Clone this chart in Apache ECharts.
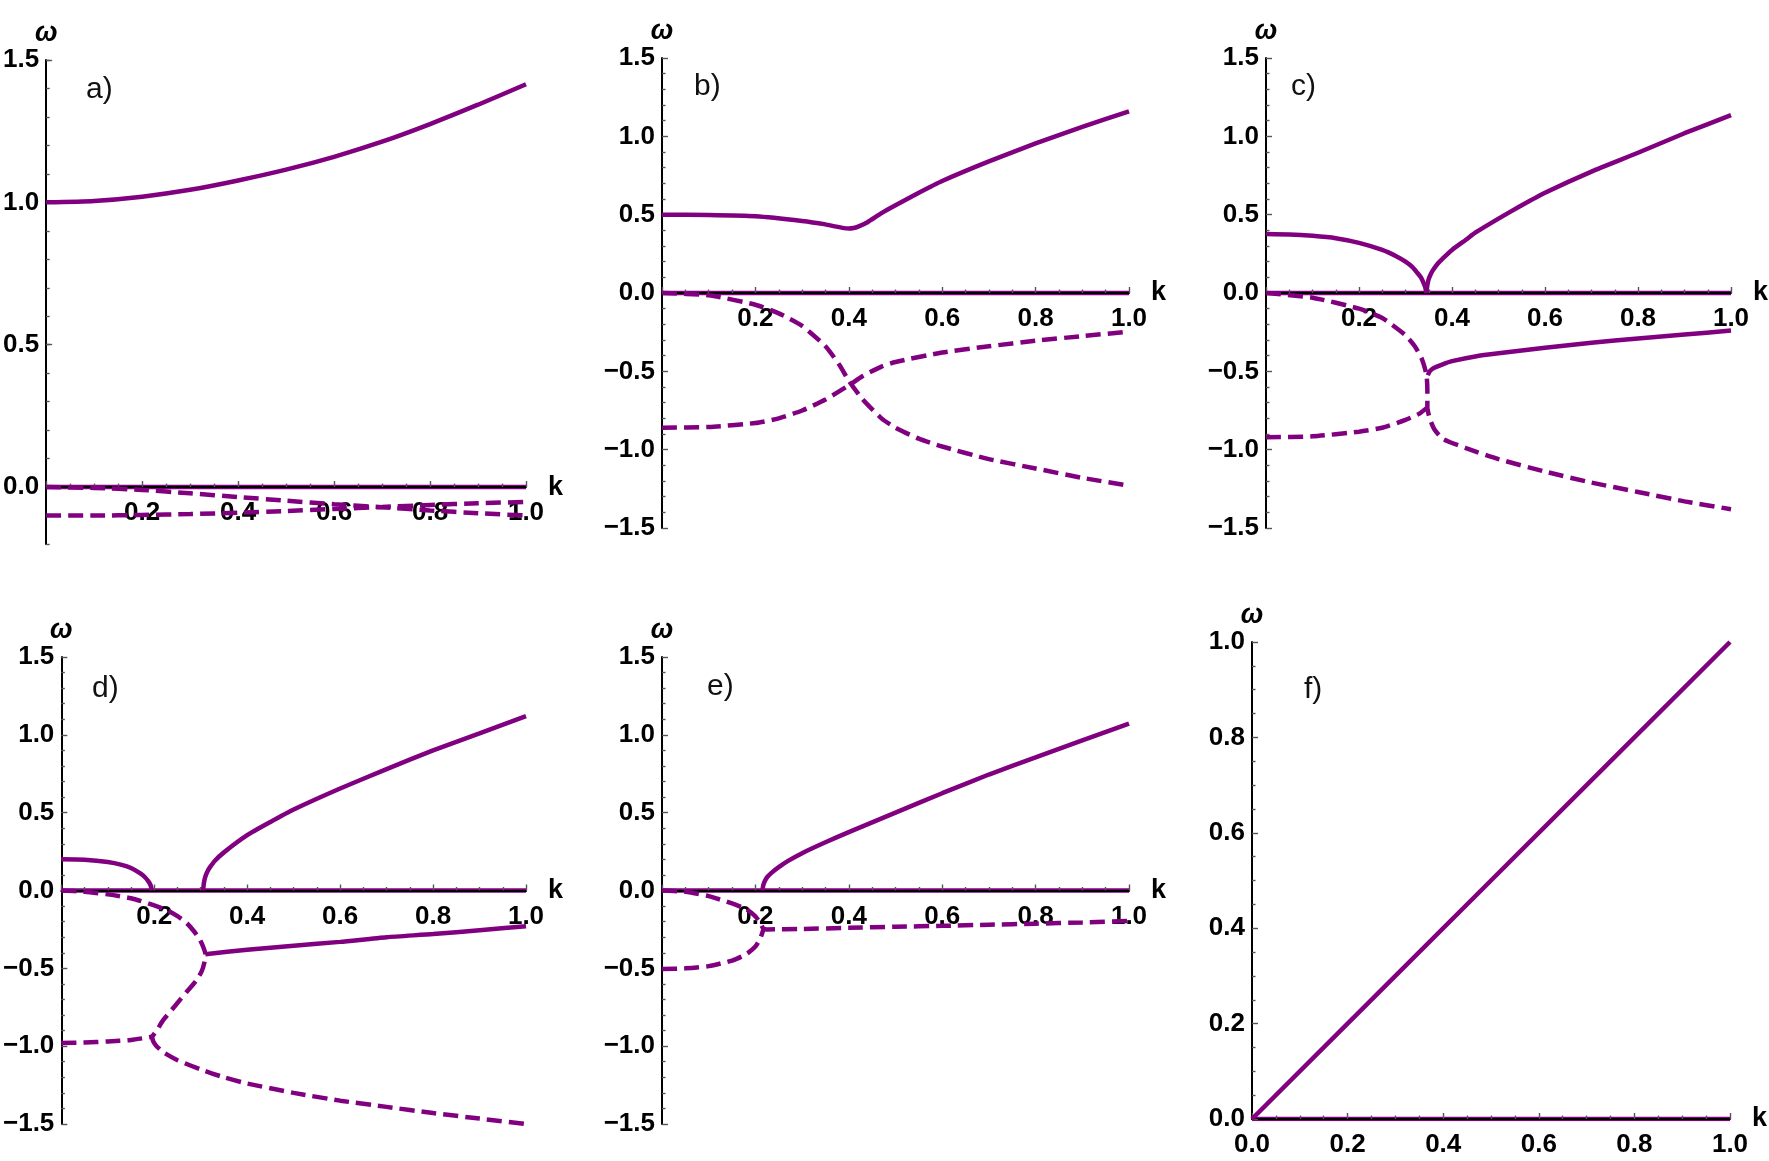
<!DOCTYPE html>
<html><head><meta charset="utf-8">
<script src="https://cdn.jsdelivr.net/npm/echarts@6/dist/echarts.min.js"></script>
<style>html,body{margin:0;padding:0;background:#fff}#c{width:1769px;height:1161px}</style>
</head><body><div id="c"></div><script>
// ---------- data (k, omega) ----------
const panelLetters = ['a)', 'b)', 'c)', 'd)', 'e)', 'f)'];
const kTickLabels = [0.2, 0.4, 0.6, 0.8, 1.0];
const wTickLabelsA = [0, 0.5, 1.0, 1.5];
const wTickLabelsBE = [-1.5, -1.0, -0.5, 0, 0.5, 1.0, 1.5];
const wTickLabelsF = [0, 0.2, 0.4, 0.6, 0.8, 1.0];

const zeroLine = [[0, 0], [1, 0]];

const aUpper = [[0,1.0],[0.1,1.005],[0.2,1.02],[0.3,1.044],[0.4,1.077],[0.5,1.115],[0.6,1.16],[0.7,1.213],[0.8,1.275],[0.9,1.343],[1.0,1.415]];
const aDash1 = [[0,0],[0.1,-0.003],[0.2,-0.01],[0.3,-0.022],[0.4,-0.035],[0.5,-0.048],[0.6,-0.06],[0.7,-0.071],[0.8,-0.082],[0.9,-0.092],[1.0,-0.1]];
const aDash2 = [[0,-0.1],[0.1,-0.1],[0.2,-0.098],[0.3,-0.095],[0.4,-0.09],[0.5,-0.084],[0.6,-0.077],[0.7,-0.07],[0.8,-0.063],[0.9,-0.057],[1.0,-0.052]];

const bUpper = [[0,0.5],[0.1,0.498],[0.2,0.49],[0.3,0.46],[0.35,0.438],[0.37,0.425],[0.39,0.414],[0.4,0.412],[0.41,0.415],[0.42,0.424],[0.44,0.452],[0.47,0.51],[0.5,0.56],[0.55,0.64],[0.6,0.715],[0.7,0.84],[0.8,0.955],[0.9,1.06],[1.0,1.16]];
const bDash1 = [[0,0],[0.1,-0.015],[0.2,-0.075],[0.25,-0.13],[0.3,-0.21],[0.35,-0.34],[0.38,-0.46],[0.4,-0.56],[0.43,-0.68],[0.47,-0.8],[0.5,-0.86],[0.55,-0.93],[0.6,-0.98],[0.7,-1.06],[0.8,-1.12],[0.9,-1.18],[1.0,-1.23]];
const bDash2 = [[0,-0.86],[0.1,-0.855],[0.2,-0.83],[0.25,-0.8],[0.3,-0.75],[0.35,-0.68],[0.4,-0.59],[0.43,-0.53],[0.47,-0.47],[0.5,-0.44],[0.6,-0.38],[0.7,-0.34],[0.8,-0.305],[0.9,-0.275],[1.0,-0.247]];

const cLeft = [[0,0.377],[0.05,0.374],[0.1,0.365],[0.15,0.35],[0.2,0.32],[0.25,0.275],[0.28,0.235],[0.3,0.2],[0.315,0.165],[0.325,0.13],[0.333,0.1],[0.338,0.07],[0.342,0.04],[0.345,0]];
const cRight = [[0.345,0],[0.347,0.05],[0.35,0.09],[0.355,0.125],[0.36,0.15],[0.37,0.19],[0.38,0.22],[0.4,0.275],[0.43,0.34],[0.45,0.385],[0.5,0.475],[0.55,0.56],[0.6,0.64],[0.7,0.775],[0.8,0.895],[0.9,1.02],[1.0,1.135]];
const cLower = [[0.348,-0.525],[0.352,-0.5],[0.36,-0.48],[0.38,-0.455],[0.4,-0.435],[0.45,-0.405],[0.5,-0.385],[0.6,-0.35],[0.7,-0.318],[0.8,-0.29],[0.9,-0.265],[1.0,-0.24]];
const cDash1 = [[0,0],[0.1,-0.03],[0.2,-0.1],[0.25,-0.16],[0.3,-0.27],[0.32,-0.34],[0.335,-0.42],[0.345,-0.52],[0.347,-0.62],[0.347,-0.73],[0.352,-0.8],[0.362,-0.87],[0.38,-0.93],[0.43,-0.99],[0.5,-1.06],[0.6,-1.14],[0.7,-1.21],[0.8,-1.27],[0.9,-1.33],[1.0,-1.38]];
const cDash2 = [[0,-0.92],[0.1,-0.915],[0.2,-0.885],[0.25,-0.86],[0.3,-0.81],[0.33,-0.77],[0.347,-0.73]];

const dLeft = [[0,0.2],[0.05,0.197],[0.1,0.183],[0.13,0.165],[0.15,0.145],[0.17,0.11],[0.18,0.085],[0.187,0.06],[0.192,0.035],[0.195,0]];
const dRight = [[0.305,0],[0.307,0.05],[0.31,0.09],[0.315,0.125],[0.32,0.15],[0.33,0.19],[0.35,0.245],[0.4,0.355],[0.45,0.44],[0.5,0.52],[0.6,0.655],[0.7,0.78],[0.8,0.9],[0.9,1.01],[1.0,1.12]];
const dLower = [[0.31,-0.41],[0.4,-0.38],[0.5,-0.355],[0.6,-0.33],[0.7,-0.3],[0.8,-0.28],[0.9,-0.255],[1.0,-0.23]];
const dDash1 = [[0,0],[0.05,-0.008],[0.1,-0.025],[0.15,-0.05],[0.2,-0.095],[0.23,-0.13],[0.25,-0.165],[0.27,-0.21],[0.285,-0.26],[0.297,-0.31],[0.305,-0.36],[0.31,-0.41],[0.308,-0.46],[0.302,-0.52],[0.29,-0.58],[0.27,-0.65],[0.245,-0.74],[0.22,-0.83],[0.205,-0.9],[0.195,-0.94]];
const dDash2 = [[0,-0.98],[0.05,-0.977],[0.1,-0.97],[0.15,-0.96],[0.195,-0.94]];
const dDash3 = [[0.195,-0.94],[0.198,-0.97],[0.205,-1.0],[0.22,-1.04],[0.25,-1.09],[0.3,-1.15],[0.35,-1.2],[0.4,-1.24],[0.5,-1.3],[0.6,-1.35],[0.7,-1.39],[0.8,-1.43],[0.9,-1.465],[1.0,-1.5]];

const eRight = [[0.215,0],[0.217,0.035],[0.22,0.06],[0.225,0.085],[0.235,0.115],[0.25,0.15],[0.27,0.19],[0.3,0.24],[0.35,0.31],[0.4,0.375],[0.5,0.5],[0.6,0.625],[0.7,0.745],[0.8,0.855],[0.9,0.965],[1.0,1.072]];
const eDash1 = [[0,0],[0.05,-0.008],[0.1,-0.036],[0.15,-0.083],[0.18,-0.12],[0.2,-0.166],[0.208,-0.2],[0.213,-0.225],[0.217,-0.245],[0.225,-0.25],[0.3,-0.247],[0.4,-0.24],[0.5,-0.233],[0.6,-0.227],[0.7,-0.22],[0.8,-0.213],[0.9,-0.205],[1.0,-0.195]];
const eDash2 = [[0,-0.505],[0.05,-0.5],[0.1,-0.486],[0.15,-0.45],[0.18,-0.41],[0.2,-0.36],[0.21,-0.31],[0.215,-0.27],[0.217,-0.25]];

const fDiag = [[0,0],[0.5,0.5],[1,1]];

// ---------- layout / style ----------
const PURPLE = '#800080';
const FONT = '"Liberation Sans", Arial, sans-serif';
const grids = [
  {left: 43, top: 60, width: 483, height: 484},
  {left: 662, top: 58, width: 467, height: 470},
  {left: 1266, top: 58, width: 467, height: 470},
  {left: 59, top: 657, width: 467, height: 467},
  {left: 662, top: 657, width: 467, height: 467},
  {left: 1252, top: 642, width: 478, height: 477}
];
const letterPos = [[86, 90], [694, 87], [1291, 87], [92, 689], [707, 687], [1304, 690]];

function isIn(list, v) { return list.some(t => Math.abs(t - v) < 1e-6); }
function fmt(v) {
  if (Math.abs(v) < 1e-9) return '0.0';
  return (v < 0 ? '\u2212' : '') + Math.abs(v).toFixed(1);
}
const tickLine = {color: '#555', width: 1.4};
const labelStyle = {fontSize: 26, fontWeight: 'bold', color: '#000', fontFamily: FONT};

const xAxes = [], yAxes = [], series = [];

// x axis drawn at omega = 0 (offset from grid bottom computed from the y range)
function addX(gi, showZero, yMin, yMax) {
  const g = grids[gi];
  const off = -g.height * (0 - yMin) / (yMax - yMin);
  xAxes.push({
    type: 'value', gridIndex: gi, min: 0, max: 1, interval: 0.2, position: 'bottom', offset: off,
    name: 'k', nameLocation: 'end', nameGap: 16,
    nameTextStyle: {fontSize: 27, fontWeight: 'bold', color: '#000', fontFamily: FONT},
    axisLine: {onZero: false, lineStyle: {color: '#000', width: 2}},
    axisTick: {inside: true, length: 6, lineStyle: tickLine},
    minorTick: {show: true, splitNumber: 4, length: 3.5, lineStyle: tickLine},
    splitLine: {show: false},
    axisLabel: Object.assign({margin: 13, hideOverlap: false,
      formatter: v => (Math.abs(v) < 1e-9 ? (showZero ? '0.0' : '') : (isIn(kTickLabels, v) ? fmt(v) : ''))}, labelStyle)
  });
}
function addY(gi, min, max, interval, minorSplit, labels) {
  yAxes.push({
    type: 'value', gridIndex: gi, min: min, max: max, interval: interval, position: 'left',
    name: 'ω', nameLocation: 'end', nameGap: 12,
    nameTextStyle: {fontSize: 27, fontWeight: 'bold', fontStyle: 'italic', color: '#000', fontFamily: FONT},
    axisLine: {onZero: false, lineStyle: {color: '#000', width: 2}},
    axisTick: {inside: true, length: minorSplit ? 6 : 3.5, lineStyle: tickLine},
    minorTick: {show: !!minorSplit, splitNumber: minorSplit || 1, length: 3.5, lineStyle: tickLine},
    splitLine: {show: false},
    axisLabel: Object.assign({margin: 7, formatter: v => (isIn(labels, v) ? fmt(v) : '')}, labelStyle)
  });
  return yAxes.length - 1;
}
function addSeries(xi, yi, data, dashed, z) {
  series.push({
    type: 'line', xAxisIndex: xi, yAxisIndex: yi, data: data,
    showSymbol: false, symbol: 'none', smooth: 0.2, silent: true, animation: false,
    z: z == null ? 2 : z,
    lineStyle: {color: PURPLE, width: 4.5, type: dashed ? [15, 7] : 'solid', cap: 'butt'}
  });
}

// panel a (special y range -0.2..1.5)
addX(0, false, -0.2, 1.5);
const ya = addY(0, -0.2, 1.5, 0.1, 0, wTickLabelsA);
yAxes.push({
  type: 'value', gridIndex: 0, min: -0.2, max: 1.5, position: 'left',
  axisLine: {show: false}, axisLabel: {show: false}, splitLine: {show: false},
  axisTick: {inside: true, length: 6, lineStyle: tickLine, customValues: wTickLabelsA}
});
addSeries(0, ya, zeroLine, false, -1);
addSeries(0, ya, aUpper, false);
addSeries(0, ya, aDash1, true);
addSeries(0, ya, aDash2, true);

// panel b
addX(1, false, -1.5, 1.5);
let yi = addY(1, -1.5, 1.5, 0.5, 5, wTickLabelsBE);
addSeries(1, yi, zeroLine, false, -1);
addSeries(1, yi, bUpper, false);
addSeries(1, yi, bDash1, true);
addSeries(1, yi, bDash2, true);

// panel c
addX(2, false, -1.5, 1.5);
yi = addY(2, -1.5, 1.5, 0.5, 5, wTickLabelsBE);
addSeries(2, yi, zeroLine, false, -1);
addSeries(2, yi, cLeft, false);
addSeries(2, yi, cRight, false);
addSeries(2, yi, cLower, false);
addSeries(2, yi, cDash1, true);
addSeries(2, yi, cDash2, true);

// panel d
addX(3, false, -1.5, 1.5);
yi = addY(3, -1.5, 1.5, 0.5, 5, wTickLabelsBE);
addSeries(3, yi, zeroLine, false, -1);
addSeries(3, yi, dLeft, false);
addSeries(3, yi, dRight, false);
addSeries(3, yi, dLower, false);
addSeries(3, yi, dDash1, true);
addSeries(3, yi, dDash2, true);
addSeries(3, yi, dDash3, true);

// panel e
addX(4, false, -1.5, 1.5);
yi = addY(4, -1.5, 1.5, 0.5, 5, wTickLabelsBE);
addSeries(4, yi, zeroLine, false, -1);
addSeries(4, yi, eRight, false);
addSeries(4, yi, eDash1, true);
addSeries(4, yi, eDash2, true);

// panel f
addX(5, true, 0, 1);
yi = addY(5, 0, 1, 0.2, 4, wTickLabelsF);
addSeries(5, yi, zeroLine, false, -1);
addSeries(5, yi, fDiag, false);

const graphic = panelLetters.map((t, i) => ({
  type: 'text', x: letterPos[i][0], y: letterPos[i][1], silent: true,
  style: {text: t, fontSize: 30, fontFamily: FONT, fill: '#111', verticalAlign: 'middle', align: 'left'}
}));

const chart = echarts.init(document.getElementById('c'), null, {renderer: 'canvas'});
chart.setOption({
  animation: false,
  backgroundColor: '#fff',
  grid: grids.map(g => Object.assign({containLabel: false}, g)),
  xAxis: xAxes, yAxis: yAxes, series: series, graphic: graphic
});
</script></body></html>
